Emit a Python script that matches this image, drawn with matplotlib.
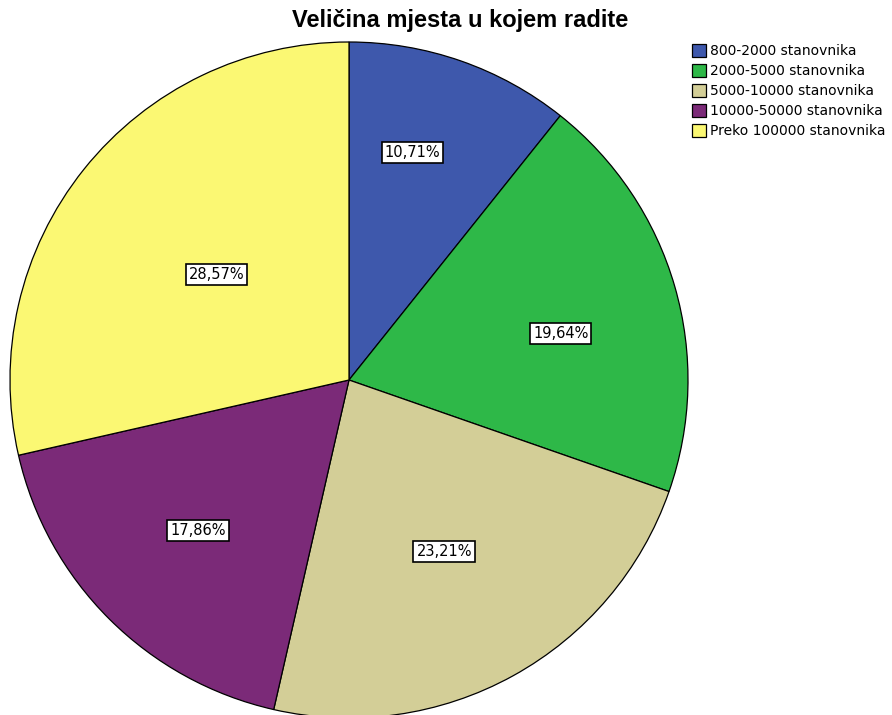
import numpy as np
import matplotlib.pyplot as plt
from matplotlib import font_manager as fm
from matplotlib.patches import Patch

plt.rcParams['font.family'] = ['DejaVu Sans']

categories = ['800-2000 stanovnika', '2000-5000 stanovnika', '5000-10000 stanovnika',
              '10000-50000 stanovnika', 'Preko 100000 stanovnika']
percent = [10.71, 19.64, 23.21, 17.86, 28.57]
pct_labels = ['10,71%', '19,64%', '23,21%', '17,86%', '28,57%']
colors = ['#3E58AC', '#2EB848', '#D3CE97', '#7B2A78', '#FBF873']
label_dist = [0.70, 0.64, 0.58, 0.63, 0.50]
label_shift = [3.7, -3.6, 0.0, 0.0, 0.0]  # degrees

# Arial-like bold for the title
title_font = fm.FontProperties(family='DejaVu Sans', weight='bold', size=15)
for f in fm.findSystemFonts():
    if f.endswith('LiberationSans-Bold.ttf'):
        title_font = fm.FontProperties(fname=f, size=17)
        break

fig = plt.figure(figsize=(8.92, 7.15), dpi=100)
ax = fig.add_axes([10 / 892, -3 / 715, 678 / 892, 676 / 715])
wedges, _ = ax.pie(percent, colors=colors, startangle=90, counterclock=False,
                   wedgeprops=dict(edgecolor='black', linewidth=0.9))
ax.set_xlim(-1, 1)
ax.set_ylim(-1, 1)
ax.set_aspect('auto')
ax.axis('off')

for w, lab, d, s in zip(wedges, pct_labels, label_dist, label_shift):
    mid = np.deg2rad((w.theta1 + w.theta2) / 2 + s)
    ax.text(d * np.cos(mid), d * np.sin(mid), lab, ha='center', va='center', fontsize=10.5,
            bbox=dict(boxstyle='square,pad=0.2', facecolor='white', edgecolor='black', linewidth=1.2))

fig.text(460 / 892, 1 - 21 / 715, 'Veličina mjesta u kojem radite', ha='center', va='center',
         fontproperties=title_font)

handles = [Patch(facecolor=c, edgecolor='black', linewidth=0.9) for c in colors]
fig.legend(handles, categories, loc='upper left', bbox_to_anchor=(692 / 892, 1 - 44 / 715),
           frameon=False, fontsize=10, handlelength=1.0, handleheight=1.05,
           handletextpad=0.3, labelspacing=0.42, borderpad=0, borderaxespad=0)

fig.savefig('out.png', dpi=100)
